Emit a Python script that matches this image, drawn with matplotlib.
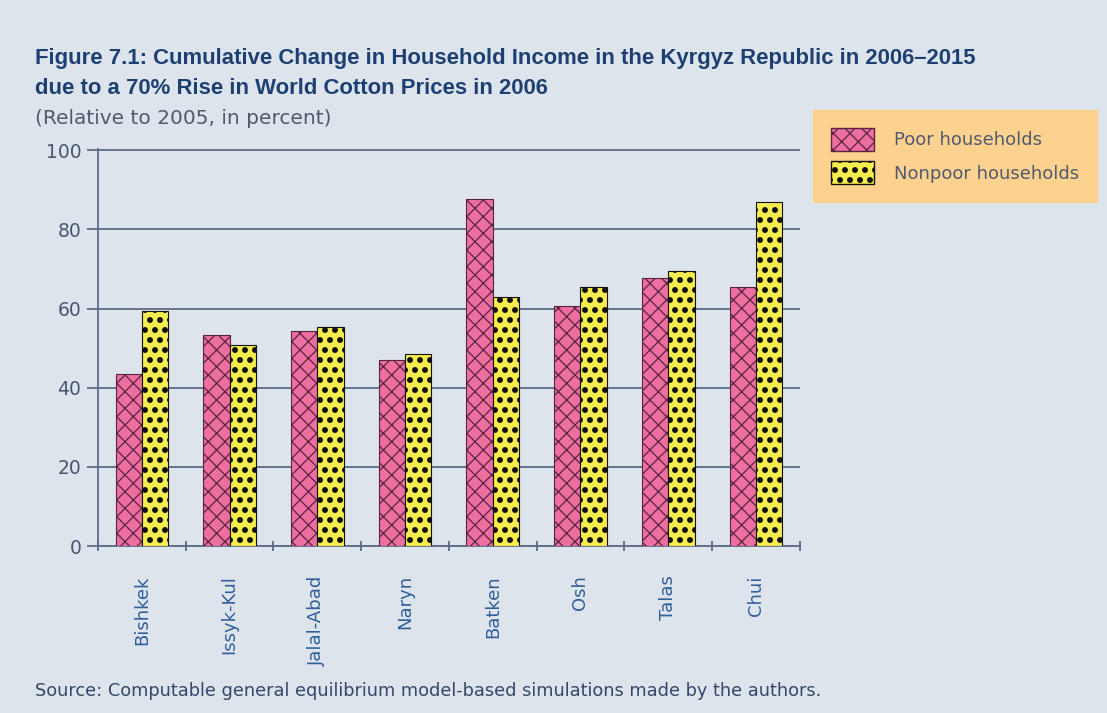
import numpy as np
import matplotlib
matplotlib.use('Agg')
import matplotlib.pyplot as plt
from matplotlib import hatch as mhatch
from matplotlib.patches import Patch

# values
regions = ['Bishkek', 'Issyk-Kul', 'Jalal-Abad', 'Naryn', 'Batken', 'Osh', 'Talas', 'Chui']
poor = [43.5, 53.3, 54.3, 47.0, 87.8, 60.6, 67.7, 65.4]
nonpoor = [59.5, 50.8, 55.3, 48.5, 62.9, 65.4, 69.4, 86.9]
yticks = [0, 20, 40, 60, 80, 100]

bg = '#dde4eb'
grid_col = '#5b6b88'
navy = '#1d3f73'
pink = '#ec6fa0'
yellow = '#f7ec4e'


# sparser, bigger filled dots for the '.' hatch (row count must stay even)
def _dots_init(self, hatch, density):
    self.num_rows = hatch.count('.') * 5
    mhatch.Circles.__init__(self, hatch, density)


mhatch.SmallFilledCircles.__init__ = _dots_init
mhatch.SmallFilledCircles.size = 0.23

plt.rcParams['font.family'] = ['DejaVu Sans']
plt.rcParams['hatch.linewidth'] = 0.9

fig = plt.figure(figsize=(11.07, 7.13), dpi=100, facecolor=bg)
ax = fig.add_axes([0.0885, 0.234, 0.634, 0.557], facecolor=bg)

x = np.arange(len(regions))
w = 0.3
ax.bar(x - w / 2, poor, w, color=pink, edgecolor='#5a2340', hatch='xx', linewidth=0.8, zorder=3)
ax.bar(x + w / 2, nonpoor, w, color=yellow, edgecolor='#111111', hatch='..', linewidth=0.8, zorder=3)

ax.set_xlim(-0.5, len(regions) - 0.5)
ax.set_ylim(0, 100.3)
ax.set_yticks(yticks)
ax.yaxis.grid(True, color=grid_col, linewidth=1.3, zorder=1)
ax.set_axisbelow(True)
for s in ['top', 'right']:
    ax.spines[s].set_visible(False)
for s in ['left', 'bottom']:
    ax.spines[s].set_color(grid_col)
    ax.spines[s].set_linewidth(1.3)

ax.set_xticks(x)
ax.set_xticklabels(regions, rotation=90, color='#2f5f9c', fontsize=13)
ax.set_xticks(np.arange(len(regions) + 1) - 0.5, minor=True)
ax.tick_params(axis='x', which='major', length=0, pad=21)
ax.tick_params(axis='x', which='minor', length=7, width=1.3, color=grid_col, direction='inout')
ax.tick_params(axis='y', length=8, width=1.3, color=grid_col, labelsize=13.5, labelcolor='#4a5670', pad=4)

# titles
title_font = ['Liberation Sans', 'DejaVu Sans']
fig.text(0.032, 0.910, 'Figure 7.1: Cumulative Change in Household Income in the Kyrgyz Republic in 2006\u20132015',
         fontsize=15.9, fontweight='bold', color=navy, family=title_font)
fig.text(0.032, 0.868, 'due to a 70% Rise in World Cotton Prices in 2006',
         fontsize=15.9, fontweight='bold', color=navy, family=title_font)
fig.text(0.032, 0.826, '(Relative to 2005, in percent)', fontsize=14.5, color='#505a70')
fig.text(0.032, 0.024, 'Source: Computable general equilibrium model-based simulations made by the authors.',
         fontsize=12.8, color='#34476a')

# legend
handles = [Patch(facecolor=pink, edgecolor='#5a2340', hatch='xx', label='Poor households'),
           Patch(facecolor=yellow, edgecolor='#111111', hatch='..', label='Nonpoor households')]
leg = fig.legend(handles=handles, loc='upper left', bbox_to_anchor=(0.734, 0.846),
                 frameon=True, fontsize=13, handlelength=2.4, handleheight=1.6,
                 borderpad=1.0, labelspacing=0.55, handletextpad=1.1, borderaxespad=0)
leg.get_frame().set_facecolor('#fdd28e')
leg.get_frame().set_edgecolor('#fdd28e')
leg.get_frame().set_alpha(1)
leg.get_frame().set_boxstyle('square', pad=0)
for t in leg.get_texts():
    t.set_color('#505a70')

fig.savefig('out.png', dpi=100, facecolor=bg)
